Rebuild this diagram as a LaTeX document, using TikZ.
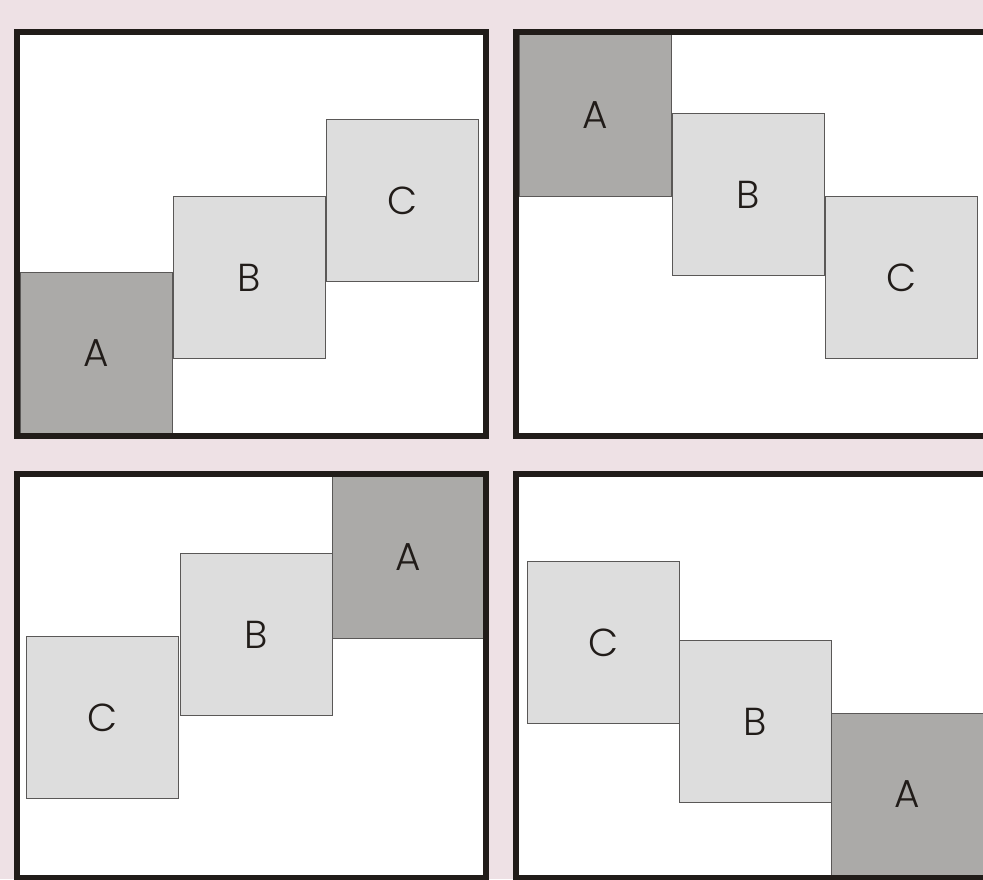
\documentclass[tikz,border=0pt]{standalone}
\usepackage{fontspec}
\setmainfont{Poppins}[UprightFont=* Light]
\usetikzlibrary{positioning}
\definecolor{bgpink}{HTML}{EEE1E5}
\definecolor{dgray}{HTML}{ABAAA8}
\definecolor{lgray}{HTML}{DDDDDD}
\definecolor{framecol}{HTML}{211C19}
\definecolor{edgecol}{HTML}{5A5857}

\begin{document}
\begin{tikzpicture}[
      x=1pt, y=-1pt,
      every node/.style={font=\fontsize{39}{42}\selectfont, text=framecol},
      sqbox/.style={draw=edgecol, line width=1pt, anchor=north west,
                  inner sep=0pt, minimum width=152pt, minimum height=162pt},
      dbox/.style={sqbox, fill=dgray},
      lbox/.style={sqbox, fill=lgray},
      panelframe/.style={draw=framecol, line width=6pt},
    ]
    \useasboundingbox (0,0) rectangle (983,879);
    \fill[bgpink] (0,0) rectangle (983,879);
    \clip (0,0) rectangle (983,879);

    % panel backgrounds
    \fill[white] (17,31.5) rectangle (486,436);
    \fill[white] (516,31.5) rectangle (995,436);
    \fill[white] (17,473.5) rectangle (486,878);
    \fill[white] (516,473.5) rectangle (995,878);

    % top left: rising
    \node[dbox] (a1) at (20,272)  {A};
    \node[lbox] (b1) at (173,196) {B};
    \node[lbox] (c1) at (326,119) {C};

    % top right: falling
    \node[dbox] (a2) at (519,34)  {A};
    \node[lbox] (b2) at (672,113) {B};
    \node[lbox] (c2) at (825,196) {C};

    % bottom left: rising, reversed
    \node[lbox] (c3) at (26,636)  {C};
    \node[lbox] (b3) at (180,553) {B};
    \node[dbox] (a3) at (332,476) {A};

    % bottom right: falling, reversed
    \node[lbox] (c4) at (527,561) {C};
    \node[lbox] (b4) at (679,640) {B};
    \node[dbox] (a4) at (831,713) {A};

    % frames
    \draw[panelframe] (17,31.5) rectangle (486,436);
    \draw[panelframe] (516,31.5) rectangle (995,436);
    \draw[panelframe] (17,473.5) rectangle (486,878);
    \draw[panelframe] (516,473.5) rectangle (995,878);
  \end{tikzpicture}
\end{document}
